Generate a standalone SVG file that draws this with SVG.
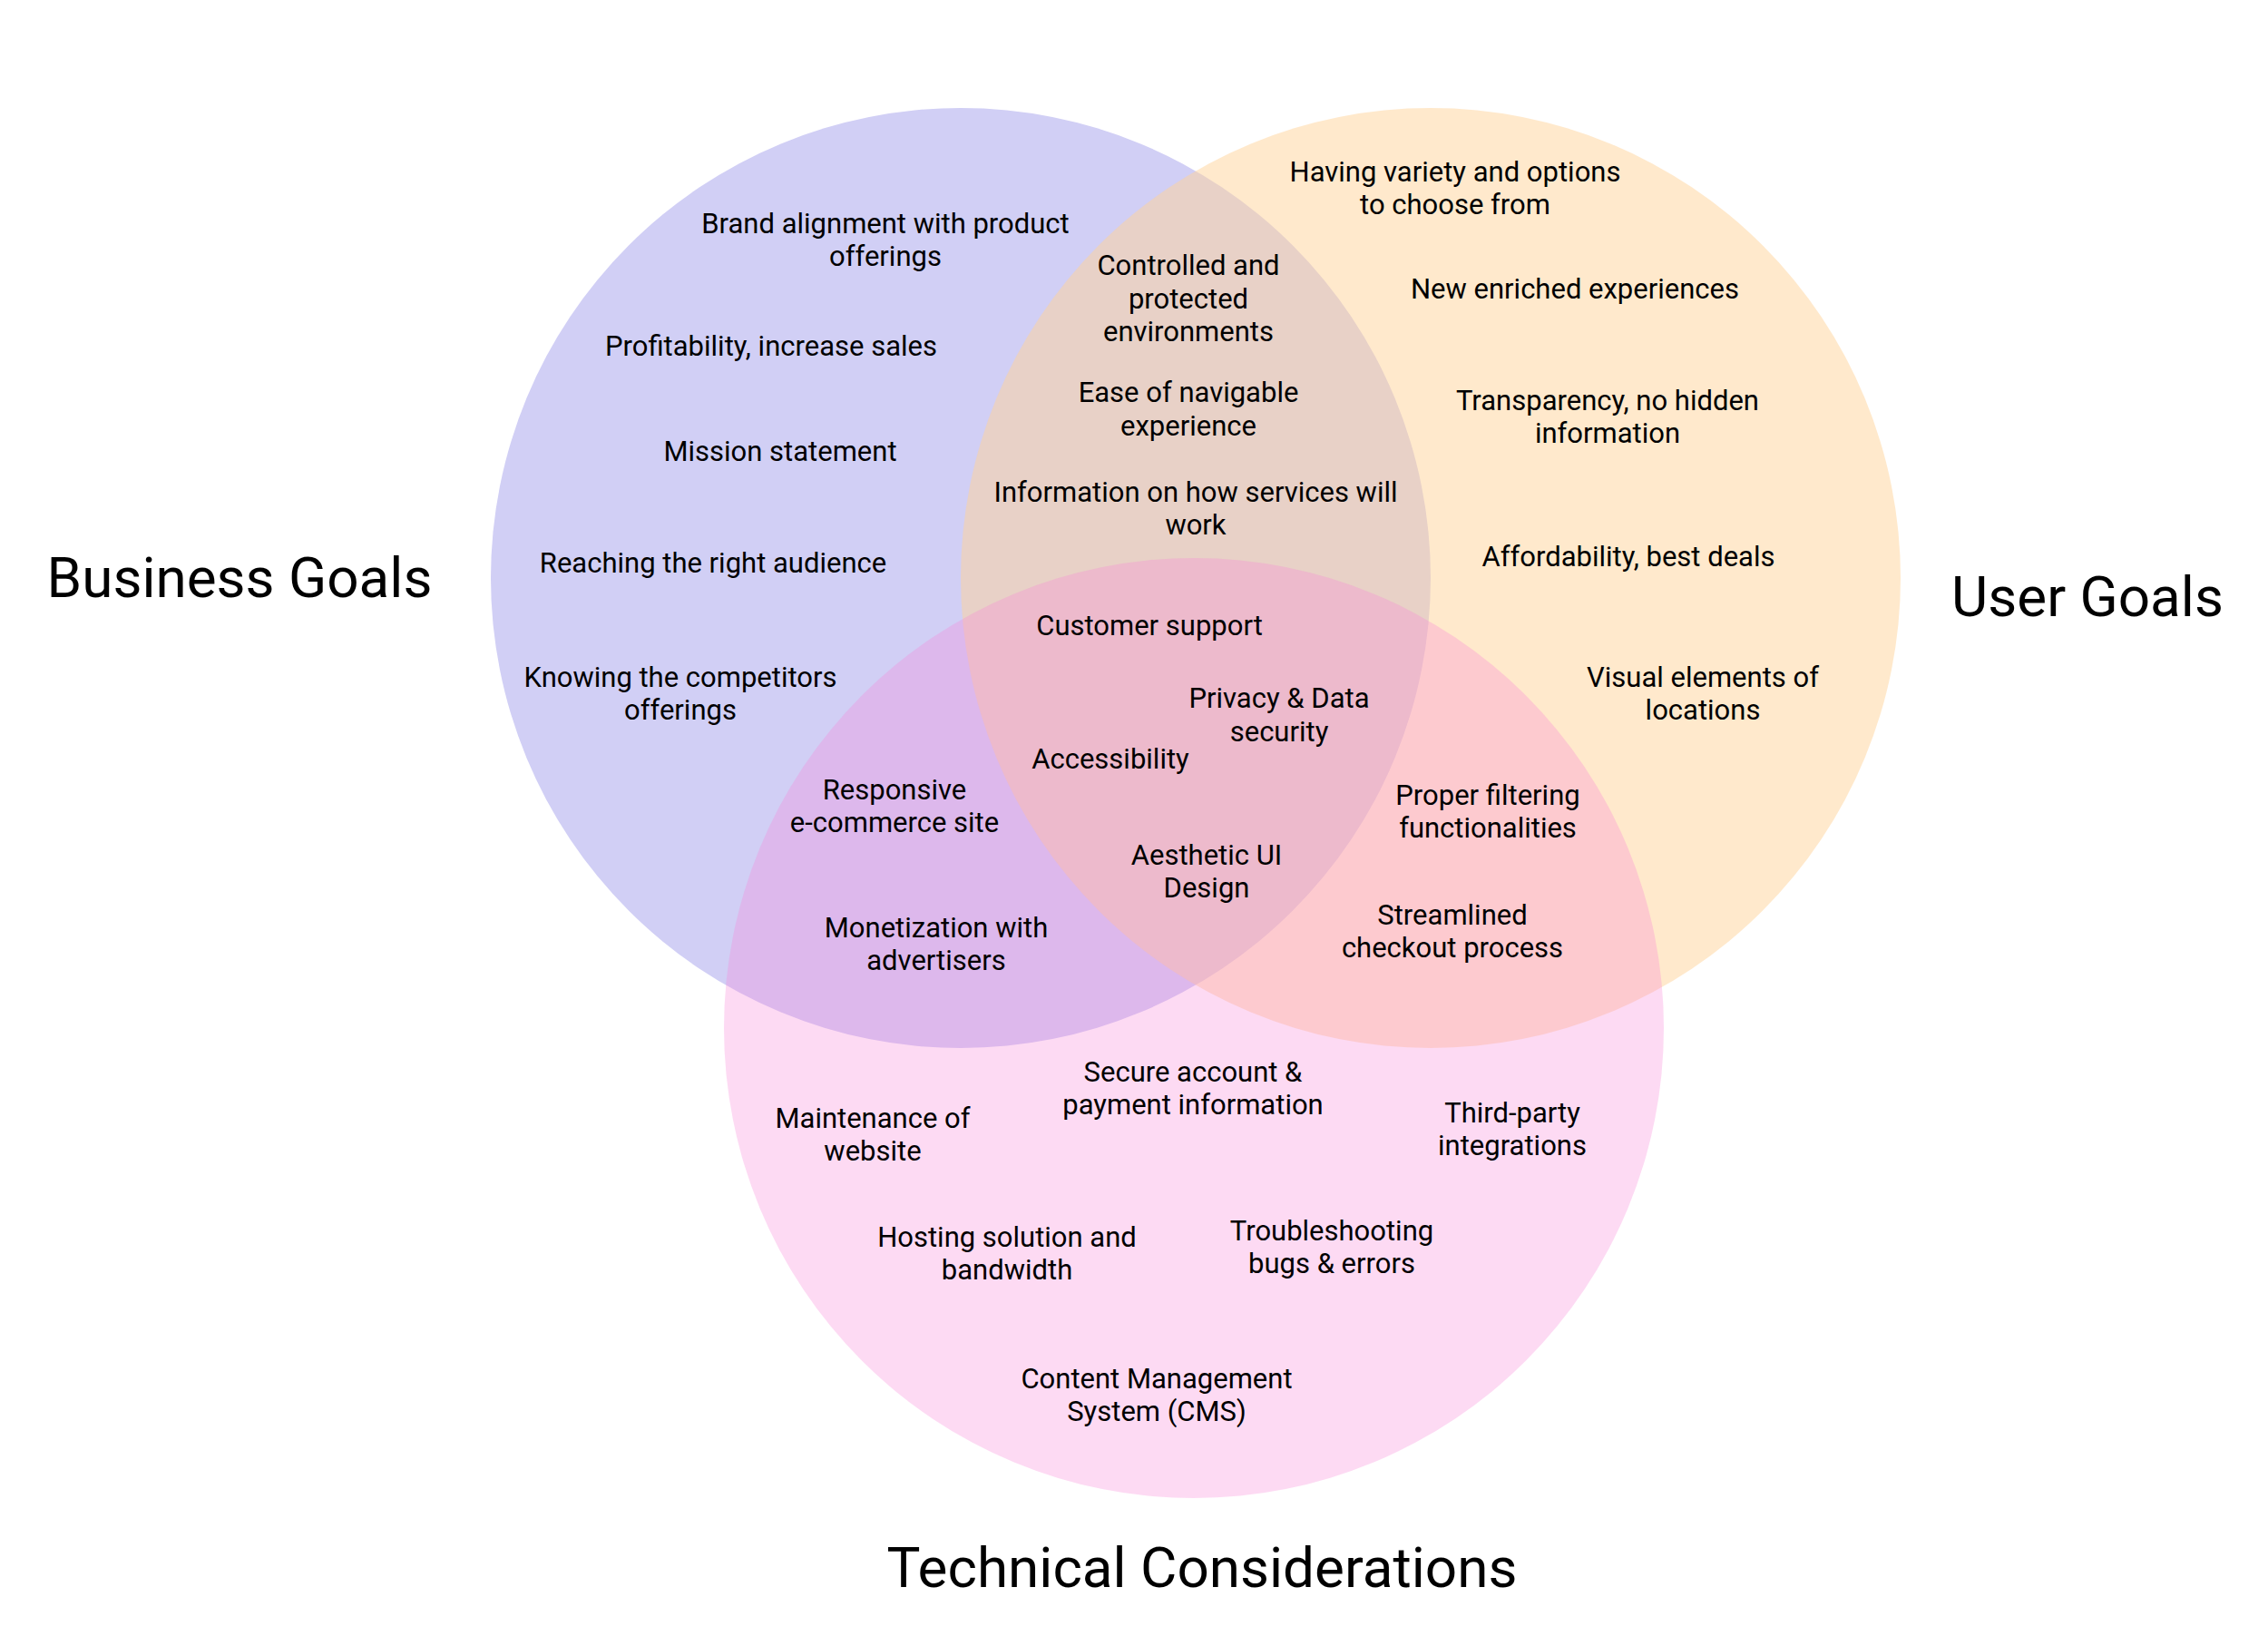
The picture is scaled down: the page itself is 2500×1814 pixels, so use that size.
<svg xmlns="http://www.w3.org/2000/svg" width="2500" height="1814" viewBox="0 0 2500 1814">
<style>
text{font-family:Roboto,"Liberation Sans",sans-serif;fill:#000;text-anchor:middle}
.t{font-size:31px}
.h{font-size:62px}
</style>
<rect width="2500" height="1814" fill="#fff"/>
<g id="circles">
<circle id="business" cx="1059" cy="637" r="518" fill="#D1CFF5"/>
<circle id="user" cx="1577" cy="637" r="518" fill="#FFD399" fill-opacity="0.5"/>
<circle id="technical" cx="1316" cy="1133" r="518" fill="#F884D7" fill-opacity="0.3"/>
</g>
<g id="titles">
<text id="title-business" class="h" x="264" y="658">Business Goals</text>
<text id="title-user" class="h" x="2301" y="679">User Goals</text>
<text id="title-technical" class="h" x="1325" y="1749">Technical Considerations</text>
</g>
<g id="labels" class="t">
<g id="n1"><text x="976" y="257">Brand alignment with product</text><text x="976" y="293">offerings</text></g>
<g id="n2"><text x="850" y="392">Profitability, increase sales</text></g>
<g id="n3"><text x="860" y="508">Mission statement</text></g>
<g id="n4"><text x="786" y="631">Reaching the right audience</text></g>
<g id="n5"><text x="750" y="757">Knowing the competitors</text><text x="750" y="793">offerings</text></g>
<g id="n6"><text x="1310" y="303">Controlled and</text><text x="1310" y="340">protected</text><text x="1310" y="376">environments</text></g>
<g id="n7"><text x="1310" y="443">Ease of navigable</text><text x="1310" y="480">experience</text></g>
<g id="n8"><text x="1318" y="553">Information on how services will</text><text x="1318" y="589">work</text></g>
<g id="n9"><text x="1604" y="200">Having variety and options</text><text x="1604" y="236">to choose from</text></g>
<g id="n10"><text x="1736" y="329">New enriched experiences</text></g>
<g id="n11"><text x="1772" y="452">Transparency, no hidden</text><text x="1772" y="488">information</text></g>
<g id="n12"><text x="1795" y="624">Affordability, best deals</text></g>
<g id="n13"><text x="1877" y="757">Visual elements of</text><text x="1877" y="793">locations</text></g>
<g id="n14"><text x="1267" y="700">Customer support</text></g>
<g id="n15"><text x="1410" y="780">Privacy &amp; Data</text><text x="1410" y="817">security</text></g>
<g id="n16"><text x="1224" y="847">Accessibility</text></g>
<g id="n17"><text x="1330" y="953">Aesthetic UI</text><text x="1330" y="989">Design</text></g>
<g id="n18"><text x="986" y="881">Responsive</text><text x="986" y="917">e-commerce site</text></g>
<g id="n19"><text x="1032" y="1033">Monetization with</text><text x="1032" y="1069">advertisers</text></g>
<g id="n20"><text x="1640" y="887">Proper filtering</text><text x="1640" y="923">functionalities</text></g>
<g id="n21"><text x="1601" y="1019">Streamlined</text><text x="1601" y="1055">checkout process</text></g>
<g id="n22"><text x="1315" y="1192">Secure account &amp;</text><text x="1315" y="1228">payment information</text></g>
<g id="n23"><text x="962" y="1243">Maintenance of</text><text x="962" y="1279">website</text></g>
<g id="n24"><text x="1667" y="1237">Third-party</text><text x="1667" y="1273">integrations</text></g>
<g id="n25"><text x="1110" y="1374">Hosting solution and</text><text x="1110" y="1410">bandwidth</text></g>
<g id="n26"><text x="1468" y="1367">Troubleshooting</text><text x="1468" y="1403">bugs &amp; errors</text></g>
<g id="n27"><text x="1275" y="1530">Content Management</text><text x="1275" y="1566">System (CMS)</text></g>
</g>
<g id="connectors"/>
</svg>
